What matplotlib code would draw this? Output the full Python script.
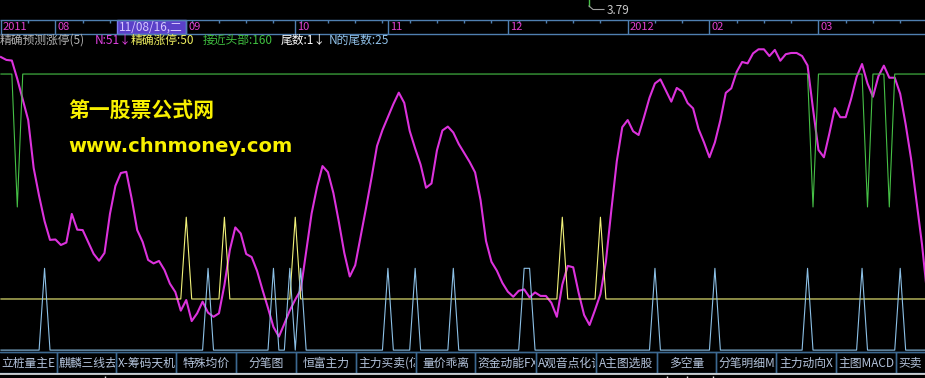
import matplotlib
matplotlib.use("Agg")
import matplotlib.pyplot as plt
import matplotlib.patches as mpatches
from matplotlib.transforms import blended_transform_factory, offset_copy, Bbox

plt.rcParams['font.family'] = ['Noto Sans CJK SC', 'DejaVu Sans']

# N line (magenta), one value per bar
n_line = [
  168.3, 166.9, 166.6, 157.6, 147.5, 137.5, 114.1, 100.4, 88.1, 78.9,
  79.1, 76.4, 77.6, 91.6, 83.9, 83.7, 77.9, 72.1, 68.7, 72.5,
  91.6, 105.3, 111.6, 112.2, 98.9, 83.7, 77.9, 69.1, 67.4, 68.6,
  64.2, 57.5, 53.4, 44.3, 49.5, 39.2, 43.0, 48.7, 43.3, 41.3,
  43.0, 56.8, 74.0, 85.0, 82.0, 72.0, 70.5, 63.7, 54.4, 45.6,
  36.3, 31.6, 37.9, 44.4, 49.7, 54.4, 73.0, 91.8, 104.8, 115.0,
  112.0, 101.8, 87.7, 72.5, 61.0, 66.5, 80.6, 94.7, 109.3, 124.8,
  132.6, 139.0, 145.3, 150.9, 145.9, 132.2, 123.6, 115.7, 104.4, 106.5,
  122.7, 132.4, 134.3, 131.4, 125.8, 121.4, 117.0, 111.9, 98.4, 78.4,
  68.2, 63.8, 57.9, 53.6, 51.1, 54.0, 54.7, 50.8, 53.2, 51.5,
  51.5, 48.1, 41.3, 57.0, 66.2, 65.5, 53.0, 42.2, 37.3, 44.6,
  52.4, 68.3, 93.5, 117.4, 134.0, 137.5, 132.0, 130.2, 139.0, 148.4,
  155.4, 157.4, 152.0, 146.5, 153.2, 151.4, 145.8, 143.2, 133.1, 126.6,
  119.3, 126.6, 137.4, 150.8, 153.0, 161.1, 165.9, 165.2, 170.1, 172.1,
  172.1, 168.8, 171.8, 166.5, 169.7, 170.3, 170.3, 168.8, 164.2, 143.0,
  122.9, 119.3, 130.9, 143.3, 138.9, 138.9, 147.9, 158.6, 164.9, 155.4,
  148.9, 158.9, 164.1, 158.2, 158.2, 150.3, 135.4, 118.5, 97.7, 76.7,
  51.0,
]

# 精确涨停 (yellow): flat at 50, single-bar spikes to 90
limit_bars = [34, 41, 54, 103, 110]
limit_base, limit_peak = 50, 90
# 接近头部 (green): flat at 160, single-bar dips to 95
top_bars = [3, 149, 159, 163]
top_base, top_dip = 160, 95
# N的尾数 (light blue): flat at 25, spikes to 65
tail_bars = [8, 38, 50, 53, 55, 71, 76, 83, 96, 97, 120, 131, 148, 158, 165]
tail_base, tail_peak = 25, 65
tail_digit = 1

month_labels = ['2011', '08', '09', '10', '11', '12', '2012', '02', '03']
month_bars = [0, 10, 34, 54, 71, 93, 115, 130, 150]

tab_labels = ['立桩量主E', '麒麟三线去', 'X-筹码天机', '特殊均价', '分笔图', '恒富主力',
              '主力买卖(亿)', '量价乖离', '资金动能FX', 'A观音点化论', 'A主图选股', '多空量',
              '分笔明细MA', '主力动向X', '主图MACD', '买卖']
tab_edges = [-3, 57, 116, 176, 236, 296, 356, 416, 475, 536, 596, 657, 716, 776, 836, 896, 956]

n = len(n_line)
bars = list(range(n))
limit = [limit_peak if b in limit_bars else limit_base for b in bars]
top = [top_dip if b in top_bars else top_base for b in bars]
tail = [tail_peak if b in tail_bars else tail_base for b in bars]

W, H = 925, 378
fig = plt.figure(figsize=(W / 100, H / 100), dpi=100, facecolor='black')

# main indicator panel: pixel rows 36..352
ax = fig.add_axes([0, (H - 352) / H, 1, 316 / H])
ax.set_facecolor('black')
ax.set_xlim(-0.174, 169.55)
ax.set_ylim(24.08, 178.6)
ax.set_axis_off()

ax.plot(bars, n_line, color='#dc32dc', lw=1.5, zorder=2)
ax.plot(bars, limit, color='#f2f27a', lw=0.8, zorder=3)
ax.plot(bars, top, color='#46c046', lw=0.8, zorder=4)
ax.plot(bars, tail, color='#8cc0e6', lw=0.8, zorder=5)

# overlay in pixel coords for the chrome
ov = fig.add_axes([0, 0, 1, 1], zorder=5)
ov.set_xlim(0, W)
ov.set_ylim(H, 0)
ov.set_axis_off()
ov.patch.set_alpha(0)

# watermark
ov.text(68, 110, '第一股票公式网', color='#f8f000', fontsize=15, fontweight='bold', va='center')
ov.text(68, 146, 'www.chnmoney.com', color='#f8f000', fontsize=14, fontweight='bold',
        va='center', family='DejaVu Sans')

# date bar
bx = blended_transform_factory(ax.transData, ov.transData)
ov.hlines([19.5, 33.5], 0, W, color='#4f7fb0', lw=1)
week_bars = [b for b in range(5, n, 5) if b not in month_bars]
ov.vlines(week_bars, 19.5, 23, color='#4f7fb0', lw=1, transform=bx)
ov.vlines(month_bars, 19.5, 33.5, color='#4f7fb0', lw=1, transform=bx)
lab_tr = offset_copy(bx, fig=fig, x=2, y=0, units='dots')
for lab, b in zip(month_labels, month_bars):
  ov.text(b, 27, lab, color='#e040d0', fontsize=8, va='center', transform=lab_tr)
ov.add_patch(mpatches.Rectangle((117, 19.5), 69, 14, facecolor='#5a40c8', edgecolor='#7c7cf0', lw=1))
ov.text(119, 27, '11/08/16,二', color='#d8c8ff', fontsize=8.5, va='center')

# price leftover at the top
ov.plot([588.5, 588.5], [0, 6], color='#46c046', lw=1)
ov.plot([589, 593, 604], [6, 9.5, 9.5], color='#a0a0a0', lw=0.8)
ov.text(607, 10, '3.79', color='#c8c8c8', fontsize=8.5, va='center')

# indicator title row
title_parts = [
  (0, '精确预测涨停(5)', '#b4b4b4'),
  (95, 'N:%d↓' % round(n_line[-1]), '#e040e0'),
  (131, '精确涨停:%d' % limit[-1], '#f0f060'),
  (203, '接近头部:%d' % top[-1], '#40c040'),
  (281, '尾数:%d↓' % tail_digit, '#ffffff'),
  (329, 'N的尾数:%d' % tail[-1], '#90c0e8'),
]
for x, s, c in title_parts:
  ov.text(x, 40, s, color=c, fontsize=8.5, va='center')

# tab bar
renderer = fig.canvas.get_renderer()
ov.hlines(352, 0, W, color='#3c6890', lw=1)
ov.hlines(374, 0, W, color='#e0e0e0', lw=1.2)
for lab, l, r in zip(tab_labels, tab_edges[:-1], tab_edges[1:]):
  ov.add_patch(mpatches.Rectangle((l, 352), r - l, 21, facecolor='none', edgecolor='#3c6890', lw=1))
  vl, vr = max(l, 0), min(r, W)
  t = ov.text((vl + vr) / 2, 363, lab, color='#b4c4dc', fontsize=8.5, ha='center', va='center')
  if t.get_window_extent(renderer).width > (vr - vl) - 3:
    t.set_x(l + 2)
    t.set_ha('left')
  (x0, y0), (x1, y1) = ov.transData.transform([[l + 1, 352], [r - 1, 373]])
  t.set_clip_box(Bbox.from_extents(min(x0, x1), min(y0, y1), max(x0, x1), max(y0, y1)))
  t.set_clip_on(True)
ov.vlines([105, 667, 687, 713], 375.5, 378, color='#e0e0e0', lw=1)

fig.savefig('out.png', dpi=100, facecolor='black')
